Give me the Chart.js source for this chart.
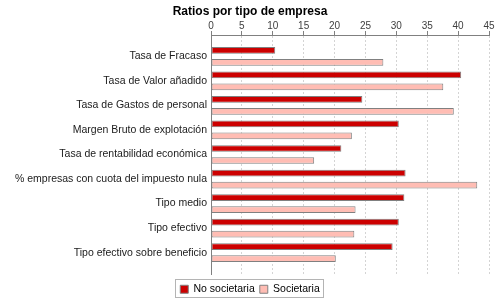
<!DOCTYPE html>
<html>
<head>
<meta charset="utf-8">
<script src="https://cdn.jsdelivr.net/npm/chart.js@4"></script>
<style>
  html, body { margin: 0; padding: 0; background: #ffffff; }
  #wrap { width: 500px; height: 300px; }
</style>
</head>
<body>
<div id="wrap"><canvas id="c" width="500" height="300"></canvas></div>
<script>
const categories = [
  'Tasa de Fracaso',
  'Tasa de Valor añadido',
  'Tasa de Gastos de personal',
  'Margen Bruto de explotación',
  'Tasa de rentabilidad económica',
  '% empresas con cuota del impuesto nula',
  'Tipo medio',
  'Tipo efectivo',
  'Tipo efectivo sobre beneficio'
];
const noSocietaria = [10.4, 40.5, 24.5, 30.4, 21.1, 31.5, 31.3, 30.4, 29.4];
const societaria   = [27.9, 37.6, 39.3, 22.8, 16.7, 43.1, 23.4, 23.2, 20.2];
const seriesNames = ['No societaria', 'Societaria'];
const xTicks = [0, 5, 10, 15, 20, 25, 30, 35, 40, 45];

const FONT = "'Liberation Sans', Arial, sans-serif";

const legendFrame = {
  id: 'legendFrame',
  afterDraw(chart) {
    const lg = chart.legend;
    if (!lg || !lg.legendHitBoxes || !lg.legendHitBoxes.length) return;
    const hb = lg.legendHitBoxes;
    const first = hb[0], last = hb[hb.length - 1];
    const cy = first.top + first.height / 2;
    const x1 = Math.round(first.left) - 4.5;
    const x2 = Math.round(last.left + last.width) + 3.5;
    const ctx = chart.ctx;
    ctx.save();
    ctx.strokeStyle = '#b4b4b4';
    ctx.lineWidth = 1;
    ctx.strokeRect(x1, Math.round(cy) - 9.5, x2 - x1, 18);
    ctx.restore();
  }
};

new Chart(document.getElementById('c'), {
  type: 'bar',
  data: {
    labels: categories,
    datasets: [
      { label: seriesNames[0], data: noSocietaria, backgroundColor: '#cc0000', borderColor: '#808080', borderWidth: 1, borderSkipped: false },
      { label: seriesNames[1], data: societaria, backgroundColor: '#ffbdb4', borderColor: '#808080', borderWidth: 1, borderSkipped: false }
    ]
  },
  options: {
    indexAxis: 'y',
    responsive: false,
    animation: false,
    devicePixelRatio: 1,
    layout: { padding: { left: 11, right: 11, top: 0, bottom: 0 } },
    datasets: { bar: { categoryPercentage: 0.975, barPercentage: 0.56 } },
    scales: {
      x: {
        position: 'top',
        min: 0,
        max: 45,
        afterBuildTicks: (scale) => { scale.ticks = xTicks.map(v => ({ value: v })); },
        afterFit: (scale) => { scale.height = 14.6; },
        ticks: { color: '#404040', font: { family: FONT, size: 10, lineHeight: 1 }, padding: 0, maxRotation: 0 },
        grid: { color: '#d4d4d4', lineWidth: 1, tickColor: '#808080', tickLength: 4, tickBorderDash: [] },
        border: { display: true, color: '#808080', dash: [2, 2] }
      },
      y: {
        afterBuildTicks: (scale) => { scale._startValue = -0.868; scale._valueRange = 9.736; },
        afterFit: (scale) => { scale.width = 200; },
        ticks: { color: '#202020', font: { family: FONT, size: 10.5 }, padding: 4, autoSkip: false },
        grid: { display: false, drawTicks: false },
        border: { display: true, color: '#808080' }
      }
    },
    plugins: {
      title: {
        display: true,
        text: 'Ratios por tipo de empresa',
        color: '#000000',
        font: { family: FONT, size: 12, weight: 'bold' },
        padding: { top: 4, bottom: 2 }
      },
      legend: {
        display: true,
        position: 'bottom',
        maxHeight: 26,
        title: { display: true, text: '', padding: 0, font: { size: 4, lineHeight: 1.25 } },
        labels: { boxWidth: 8, boxHeight: 8, padding: 5, color: '#000000', font: { family: FONT, size: 10.5 } }
      },
      tooltip: { enabled: false }
    }
  },
  plugins: [legendFrame]
});
</script>
</body>
</html>
